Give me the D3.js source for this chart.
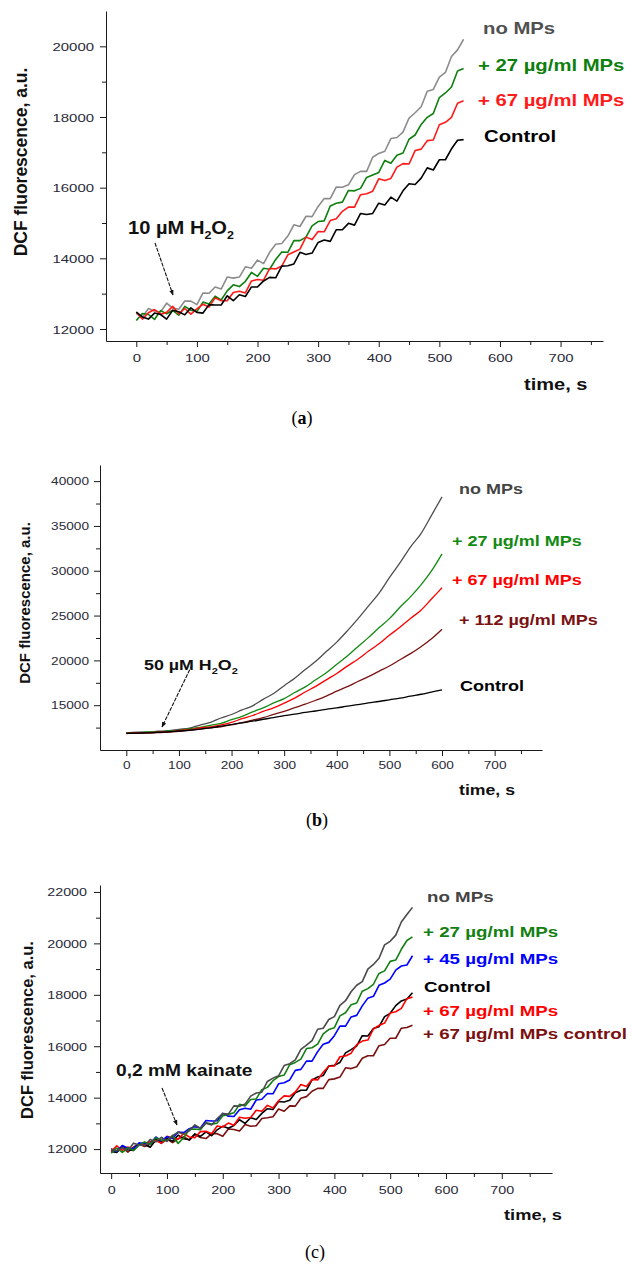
<!DOCTYPE html>
<html>
<head>
<meta charset="utf-8">
<script src="https://cdn.jsdelivr.net/npm/d3@7"></script>
<style>
  body { margin: 0; background: #fff; }
  svg { display: block; font-family: "Liberation Sans", Arial, sans-serif; }
</style>
</head>
<body>
<svg id="fig" width="632" height="1265"></svg>
<script>
// sample times (s)
const time10s = [0, 10, 20, 30, 40, 50, 60, 70, 80, 90, 100, 110, 120, 130, 140, 150, 160, 170, 180, 190,
  200, 210, 220, 230, 240, 250, 260, 270, 280, 290, 300, 310, 320, 330, 340, 350, 360, 370, 380, 390,
  400, 410, 420, 430, 440, 450, 460, 470, 480, 490, 500, 510, 520, 530, 540];
const time20s = [0, 20, 40, 60, 80, 100, 120, 140, 160, 180, 200, 220, 240, 260, 280, 300,
  320, 340, 360, 380, 400, 420, 440, 460, 480, 500, 520, 540, 560, 580, 600];

// panel (a): 10 uM H2O2
const noMPsA = [12440, 12340, 12580, 12510, 12480, 12730, 12590, 12560, 12790, 12790,
  12690, 13020, 13010, 13190, 13130, 13470, 13440, 13470, 13760, 13720,
  13950, 13850, 14170, 14400, 14420, 14630, 14950, 14900, 15190, 15180,
  15470, 15690, 15690, 16020, 16010, 16080, 16370, 16460, 16460, 16860,
  16970, 17030, 17390, 17420, 17570, 17970, 18120, 18290, 18730, 18780,
  19130, 19260, 19710, 19900, 20200];
const mp27A = [12240, 12440, 12410, 12270, 12520, 12430, 12530, 12390, 12640, 12530,
  12490, 12760, 12710, 12930, 12820, 13080, 13250, 13200, 13350, 13600,
  13490, 13720, 13690, 13970, 14180, 14170, 14500, 14500, 14600, 14920,
  15040, 15060, 15480, 15560, 15590, 15920, 15910, 15980, 16290, 16360,
  16430, 16770, 16690, 16920, 16980, 17370, 17490, 17790, 17990, 18100,
  18550, 18680, 18850, 19300, 19370];
const mp67A = [12480, 12280, 12460, 12550, 12420, 12470, 12640, 12430, 12580, 12420,
  12570, 12700, 12620, 12880, 12800, 12800, 13030, 13070, 13020, 13360,
  13400, 13380, 13710, 13700, 13780, 14100, 14180, 14260, 14600, 14530,
  14760, 14750, 15070, 15120, 15330, 15450, 15450, 15800, 15830, 15900,
  16250, 16200, 16260, 16580, 16680, 16670, 17050, 17090, 17330, 17350,
  17780, 17850, 17990, 18390, 18460];
const controlA = [12480, 12340, 12280, 12450, 12410, 12280, 12530, 12490, 12400, 12600,
  12470, 12450, 12690, 12680, 12680, 12940, 12800, 12970, 12920, 13190,
  13190, 13360, 13460, 13450, 13780, 13790, 13840, 14170, 14110, 14150,
  14450, 14520, 14480, 14810, 14810, 14990, 14940, 15270, 15240, 15270,
  15560, 15510, 15730, 15620, 15910, 16110, 16090, 16270, 16560, 16500,
  16790, 16790, 17100, 17340, 17360];

// panel (b): 50 uM H2O2
const noMPsB = [11890, 11980, 11990, 12090, 12150, 12310, 12450, 12780, 13090, 13570, 13960,
  14480, 14930, 15650, 16300, 17180, 18010, 18980, 19900, 20980, 22040,
  23290, 24630, 26060, 27480, 29240, 30880, 32650, 34140, 36180, 38250];
const mp27B = [11900, 11920, 12010, 12020, 12130, 12190, 12370, 12520, 12760, 12970, 13380,
  13760, 14250, 14690, 15250, 15740, 16410, 17040, 17840, 18620, 19570,
  20480, 21530, 22540, 23630, 24660, 25920, 27090, 28420, 29980, 31880];
const mp67B = [11840, 11900, 11910, 11990, 12030, 12160, 12270, 12460, 12590, 12810, 13090,
  13490, 13850, 14300, 14710, 15230, 15790, 16470, 17100, 17830, 18540,
  19360, 20130, 21010, 21850, 22810, 23700, 24680, 25600, 26850, 28100];
const mp112B = [11860, 11860, 11910, 11930, 12010, 12080, 12230, 12340, 12480, 12590, 12820,
  13050, 13320, 13610, 13970, 14310, 14730, 15110, 15550, 16020, 16560,
  17070, 17640, 18180, 18780, 19370, 20070, 20750, 21520, 22410, 23480];
const controlB = [11850, 11890, 11910, 11980, 12020, 12120, 12190, 12330, 12460, 12660, 12820,
  13030, 13210, 13430, 13610, 13840, 14000, 14200, 14350, 14540, 14690,
  14890, 15060, 15260, 15410, 15600, 15780, 16010, 16220, 16470, 16720];

// panel (c): 0.2 mM kainate
const noMPsC = [11990, 11930, 12050, 11940, 12230, 12160, 12140, 12370, 12280, 12460,
  12300, 12520, 12660, 12590, 12710, 12940, 12800, 13010, 12940, 13190,
  13380, 13360, 13680, 13670, 13750, 14060, 14180, 14210, 14630, 14760,
  14850, 15250, 15320, 15470, 15880, 16040, 16220, 16660, 16700, 17040,
  17150, 17590, 17770, 18120, 18370, 18510, 19000, 19180, 19420, 19940,
  20080, 20320, 20830, 21120, 21400];
const mp27C = [11840, 12040, 11870, 12050, 11950, 12150, 12280, 12190, 12440, 12350,
  12330, 12530, 12220, 12440, 12760, 12780, 12750, 13020, 12970, 13010,
  13300, 13350, 13410, 13740, 13680, 13930, 13950, 14310, 14400, 14660,
  14820, 14880, 15280, 15370, 15500, 15910, 15940, 16080, 16480, 16650,
  16720, 17180, 17300, 17610, 17680, 18140, 18240, 18410, 18830, 18930,
  19300, 19350, 19770, 20110, 20250];
const mp45C = [11990, 11910, 12140, 12030, 12010, 12240, 12220, 12210, 12470, 12320,
  12480, 12410, 12660, 12640, 12790, 12870, 12820, 13110, 13090, 13100,
  13390, 13280, 13270, 13530, 13590, 13550, 13910, 13940, 14160, 14150,
  14540, 14580, 14690, 15060, 15100, 15420, 15420, 15790, 16080, 16150,
  16410, 16780, 16780, 17140, 17200, 17570, 17870, 17940, 18370, 18460,
  18610, 18960, 19120, 19160, 19520];
const controlC = [11910, 11870, 12120, 11980, 11950, 12180, 12180, 12070, 12350, 12290,
  12420, 12300, 12540, 12400, 12360, 12590, 12490, 12670, 12520, 12750,
  12890, 12810, 12920, 13140, 13000, 13220, 13150, 13390, 13570, 13540,
  13850, 13830, 13900, 14190, 14290, 14290, 14690, 14800, 14860, 15230,
  15260, 15370, 15740, 15870, 16010, 16410, 16400, 16690, 16760, 17150,
  17280, 17580, 17760, 17840, 18080];
const mp67C = [11900, 12130, 11950, 12080, 11980, 12200, 12160, 12290, 12320, 12240,
  12500, 12430, 12380, 12610, 12470, 12440, 12680, 12690, 12600, 12900,
  12860, 13010, 12930, 13240, 13200, 13230, 13510, 13470, 13700, 13600,
  13880, 14070, 14050, 14220, 14510, 14430, 14710, 14690, 14990, 15220,
  15230, 15590, 15620, 15730, 16060, 16200, 16240, 16670, 16810, 16900,
  17290, 17340, 17470, 17850, 17910];
const mp67ctrlC = [12010, 11890, 12050, 11880, 12080, 12200, 12100, 12190, 12390, 12220,
  12390, 12250, 12400, 12480, 12350, 12570, 12450, 12410, 12600, 12600,
  12500, 12780, 12760, 12700, 12960, 12890, 12910, 13190, 13220, 13260,
  13560, 13470, 13680, 13670, 13980, 14040, 14250, 14360, 14360, 14700,
  14730, 14800, 15160, 15130, 15200, 15530, 15630, 15630, 16020, 16070,
  16310, 16310, 16700, 16730, 16820];

const xTickValues = [0, 100, 200, 300, 400, 500, 600, 700];
const xMinorValues = [50, 150, 250, 350, 450, 550, 650, 750];

const svg = d3.select("#fig");

svg.append("defs").append("marker")
  .attr("id", "arrowhead")
  .attr("viewBox", "0 0 10 10")
  .attr("refX", 9).attr("refY", 5)
  .attr("markerWidth", 5).attr("markerHeight", 5)
  .attr("orient", "auto")
  .append("path")
  .attr("d", "M0,1 L10,5 L0,9 Z")
  .attr("fill", "#111");

// text squeezed horizontally like the original figure
function stretchedText(g, x, y, str, size, sx, opts = {}) {
  return g.append("text")
    .attr("transform", `translate(${x},${y}) scale(${sx},1)`)
    .attr("font-size", size)
    .attr("font-weight", opts.weight || "bold")
    .attr("fill", opts.fill || "#000")
    .attr("text-anchor", opts.anchor || "start")
    .text(str);
}

function subscriptLabel(g, x, y, lead, size, sx) {
  const t = g.append("text")
    .attr("transform", `translate(${x},${y}) scale(${sx},1)`)
    .attr("font-size", size)
    .attr("font-weight", "bold")
    .attr("fill", "#111");
  t.append("tspan").text(lead + " H");
  t.append("tspan").attr("font-size", size * 0.62).attr("dy", size * 0.28).text("2");
  t.append("tspan").attr("dy", -size * 0.28).text("O");
  t.append("tspan").attr("font-size", size * 0.62).attr("dy", size * 0.28).text("2");
}

function drawPanel(p) {
  const x = d3.scaleLinear().domain(p.xDomain).range([p.left, p.right]);
  const y = d3.scaleLinear().domain(p.yDomain).range([p.bottom, p.top]);
  const g = svg.append("g");

  const line = d3.line()
    .x((d, i) => x(p.time[i]))
    .y(d => y(d))
    .curve(p.curve || d3.curveLinear);

  p.drawOrder.forEach(k => {
    const s = p.series[k];
    g.append("path")
      .datum(s.values)
      .attr("d", line)
      .attr("fill", "none")
      .attr("stroke", s.color)
      .attr("stroke-width", p.lineWidth)
      .attr("stroke-linejoin", "round");
  });

  // minor ticks first, then major axis
  g.append("g")
    .attr("transform", `translate(${p.left},0)`)
    .call(d3.axisLeft(y).tickValues(p.yMinor).tickSize(4).tickFormat(""))
    .call(a => a.select(".domain").remove());
  g.append("g")
    .attr("transform", `translate(0,${p.bottom})`)
    .call(d3.axisBottom(x).tickValues(xMinorValues).tickSize(4).tickFormat(""))
    .call(a => a.select(".domain").remove());

  const yAxis = g.append("g")
    .attr("transform", `translate(${p.left},0)`)
    .call(d3.axisLeft(y).tickValues(p.yTicks).tickSize(6).tickSizeOuter(0).tickFormat(d3.format("d")));
  yAxis.selectAll("text")
    .attr("x", null).attr("dy", "0.35em")
    .attr("transform", `translate(${-p.yLabelGap},0) scale(1.3,1)`);

  const xAxis = g.append("g")
    .attr("transform", `translate(0,${p.bottom})`)
    .call(d3.axisBottom(x).tickValues(xTickValues).tickSize(6).tickSizeOuter(0).tickFormat(d3.format("d")));
  xAxis.selectAll("text")
    .attr("y", null).attr("dy", null)
    .attr("transform", `translate(0,${p.xLabelOffset}) scale(1.3,1)`);

  g.selectAll(".tick text")
    .attr("font-family", '"Liberation Sans", Arial, sans-serif')
    .attr("font-size", p.tickSize)
    .attr("fill", "#2a2a38");
  g.selectAll(".domain, .tick line").attr("stroke", "#1a1a1a");

  // axis titles
  g.append("text")
    .attr("transform", `translate(${p.yTitle[0]},${p.yTitle[1]}) rotate(-90)`)
    .attr("text-anchor", "middle")
    .attr("font-size", p.yTitle[2])
    .attr("font-weight", "bold")
    .attr("fill", "#111")
    .text("DCF fluorescence, a.u.");
  stretchedText(g, p.xTitle[0], p.xTitle[1], "time, s", p.xTitle[2], 1.18, { fill: "#111" });

  // curve labels
  p.series.forEach((s, i) => {
    const pos = p.labelPos[i];
    stretchedText(g, pos[0], pos[1], s.name, p.labelSize, p.labelSx, { fill: s.text || s.color });
  });

  // stimulus annotation
  if (p.sub) subscriptLabel(g, p.note[0], p.note[1], p.noteText, p.note[2], p.note[3]);
  else stretchedText(g, p.note[0], p.note[1], p.noteText, p.note[2], p.note[3], { fill: "#111" });
  g.append("line")
    .attr("x1", p.arrow[0]).attr("y1", p.arrow[1])
    .attr("x2", p.arrow[2]).attr("y2", p.arrow[3])
    .attr("stroke", "#111")
    .attr("stroke-width", 1.1)
    .attr("stroke-dasharray", "4,1.2")
    .attr("marker-end", "url(#arrowhead)");

  // panel letter
  const cap = g.append("text")
    .attr("x", p.letter[0]).attr("y", p.letter[1])
    .attr("text-anchor", "middle")
    .attr("font-family", '"Liberation Serif", "Times New Roman", serif')
    .attr("font-size", 18)
    .attr("fill", "#000");
  cap.append("tspan").text("(");
  cap.append("tspan").attr("font-weight", p.letterBold ? "bold" : "normal").text(p.letterText);
  cap.append("tspan").text(")");
}

drawPanel({
  time: time10s,
  left: 106, right: 603, top: 11, bottom: 341,
  xDomain: [-50, 770], yDomain: [11660, 21000],
  yTicks: [12000, 14000, 16000, 18000, 20000],
  yMinor: [13000, 15000, 17000, 19000],
  yLabelGap: 12, xLabelOffset: 21, tickSize: 11.5,
  lineWidth: 1.6,
  series: [
    { name: "no MPs", values: noMPsA, color: "#8c8c8c", text: "#505050" },
    { name: "+ 27 µg/ml MPs", values: mp27A, color: "#0e7f0e" },
    { name: "+ 67 µg/ml MPs", values: mp67A, color: "#ff1a1a" },
    { name: "Control", values: controlA, color: "#000" }
  ],
  drawOrder: [0, 1, 2, 3],
  labelPos: [[483, 34], [478, 71], [478, 106], [484, 142]],
  labelSize: 16.5, labelSx: 1.23,
  yTitle: [27, 162, 17.5],
  xTitle: [524, 390, 17],
  sub: true, noteText: "10 µM", note: [128, 234, 17.5, 1.15],
  arrow: [155, 243, 173, 295],
  letter: [302, 424], letterText: "a", letterBold: true
});

drawPanel({
  time: time20s,
  left: 100, right: 542, top: 465, bottom: 750,
  xDomain: [-50, 790], yDomain: [10000, 41800],
  yTicks: [15000, 20000, 25000, 30000, 35000, 40000],
  yMinor: [12500, 17500, 22500, 27500, 32500, 37500],
  yLabelGap: 11, xLabelOffset: 19, tickSize: 10.5,
  lineWidth: 1.3, curve: d3.curveMonotoneX,
  series: [
    { name: "no MPs", values: noMPsB, color: "#4d4d4d", text: "#444" },
    { name: "+ 27 µg/ml MPs", values: mp27B, color: "#128a12" },
    { name: "+ 67 µg/ml MPs", values: mp67B, color: "#ff0000" },
    { name: "+ 112 µg/ml MPs", values: mp112B, color: "#7a1212" },
    { name: "Control", values: controlB, color: "#000" }
  ],
  drawOrder: [0, 1, 2, 3, 4],
  labelPos: [[459, 494], [452, 546], [452, 585], [459, 625], [460, 691]],
  labelSize: 15, labelSx: 1.2,
  yTitle: [30, 603, 15],
  xTitle: [459, 795, 15],
  sub: true, noteText: "50 µM", note: [144, 670, 15.5, 1.15],
  arrow: [192, 665, 162, 727],
  letter: [317, 826], letterText: "b", letterBold: true
});

drawPanel({
  time: time10s,
  left: 100, right: 552, top: 885, bottom: 1173,
  xDomain: [-20, 790], yDomain: [11070, 22270],
  yTicks: [12000, 14000, 16000, 18000, 20000, 22000],
  yMinor: [13000, 15000, 17000, 19000, 21000],
  yLabelGap: 13, xLabelOffset: 21, tickSize: 11,
  lineWidth: 1.6,
  series: [
    { name: "no MPs", values: noMPsC, color: "#4a4a4a", text: "#444" },
    { name: "+ 27 µg/ml MPs", values: mp27C, color: "#138013" },
    { name: "+ 45 µg/ml MPs", values: mp45C, color: "#0000ff" },
    { name: "Control", values: controlC, color: "#000" },
    { name: "+ 67 µg/ml MPs", values: mp67C, color: "#ff0000" },
    { name: "+ 67 µg/ml MPs control", values: mp67ctrlC, color: "#7a1010" }
  ],
  drawOrder: [5, 3, 4, 2, 1, 0],
  labelPos: [[427, 902], [423, 937], [423, 964], [424, 992], [423, 1016], [423, 1039]],
  labelSize: 15, labelSx: 1.25,
  yTitle: [33, 1030, 16.5],
  xTitle: [504, 1220, 15.5],
  sub: false, noteText: "0,2 mM kainate", note: [116, 1076, 16, 1.2],
  arrow: [162, 1088, 177, 1125],
  letter: [315, 1258], letterText: "c", letterBold: false
});
</script>
</body>
</html>
